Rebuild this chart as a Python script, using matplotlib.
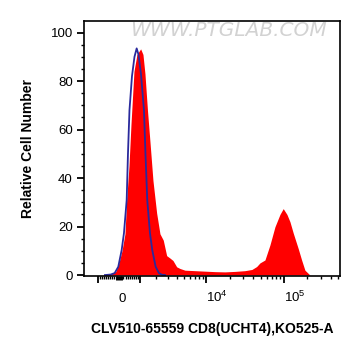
import matplotlib
matplotlib.use("Agg")
import matplotlib.pyplot as plt

plt.rcParams['font.family'] = ['Liberation Sans', 'DejaVu Sans']
plt.rcParams['mathtext.fontset'] = 'custom'
plt.rcParams['mathtext.rm'] = 'Liberation Sans'
plt.rcParams['mathtext.it'] = 'Liberation Sans:italic'
plt.rcParams['mathtext.bf'] = 'Liberation Sans:bold'

# CD8 stained sample (red, filled)
sample_x = [-689, -405, -223, -134, 0, 134, 268, 346, 452, 545, 689, 839, 1033,
            1160, 1275, 1424, 1582, 1782, 2049, 2308, 2589, 2904, 3238, 3569,
            4016, 4456, 5205, 7064, 9551, 12884, 17360, 23370, 31455, 38700,
            44505, 49095, 56940, 66045, 76605, 88845, 97980, 109350, 119550,
            131850, 152850, 169050, 186450, 216300, 250800]
sample_y = [0, 0.3, 1, 1.5, 5, 10, 17, 31, 45, 62, 84, 91, 93.3,
            91, 83, 68, 55, 39, 25.5, 17, 14.4, 8, 7, 6,
            3.4, 2.7, 2.0, 1.8, 1.6, 1.4, 1.3, 1.5, 1.8, 2.3,
            3.5, 5, 6.2, 12.4, 19.9, 25, 27.4, 25, 22,
            17.3, 10.9, 6.2, 2, 0, 0]

# unstained control (blue line)
control_x = [-641, -373, -192, -31, 120, 223, 346, 405, 475, 593, 714, 824,
             916, 1049, 1217, 1304, 1412, 1582, 1734, 1975, 2227, 2475, 2743]
control_y = [0, 0.2, 0.8, 3.4, 10.3, 17.3, 30.9, 50, 68, 82, 90, 93.5,
             91, 83, 68, 50, 30.9, 17.3, 10.3, 3.4, 0.8, 0.1, 0]

x_major = [-1000, 0, 1000, 10000, 100000]
x_labels = ['', '0', '', '$10^4$', '$10^5$']
x_minor = ([-100 * i for i in range(1, 10)] + [100 * i for i in range(1, 10)]
           + [1000 * i for i in range(2, 10)] + [10000 * i for i in range(2, 10)]
           + [100000 * i for i in range(2, 6)])

fig = plt.figure(figsize=(3.61, 3.56), dpi=100)
ax = fig.add_axes([0.2327, 0.2247, 0.709, 0.717])

ax.fill_between(sample_x, sample_y, 0, color='#ff0000', linewidth=0)
ax.plot(control_x, control_y, color='#2a2a9c', linewidth=1.3)

ax.set_xscale('asinh', linear_width=1500)
ax.set_xlim(-1850, 527000)
ax.set_ylim(-0.4, 104.9)

ax.set_xticks(x_major)
ax.set_xticklabels(x_labels)
ax.set_xticks(x_minor, minor=True)
ax.set_yticks([0, 20, 40, 60, 80, 100])
ax.set_yticks(range(0, 105, 5), minor=True)

ax.tick_params(axis='both', which='major', length=5, width=1.3, labelsize=9.5)
ax.tick_params(axis='both', which='minor', length=2.5, width=1)
ax.tick_params(axis='x', which='major', pad=14)
ax.tick_params(axis='y', which='major', pad=3)
for lbl in ax.get_xticklabels():
    lbl.set_va('baseline')
    lbl.set_ha('left')
# the zero tick shows as a thick block
ax.xaxis.get_major_ticks()[1].tick1line.set_markeredgewidth(5)
ax.xaxis.get_major_ticks()[1].tick1line.set_markersize(3)

for s in ax.spines.values():
    s.set_linewidth(1.2)

ax.set_ylabel('Relative Cell Number', fontsize=10, fontweight='bold', labelpad=11)
ax.set_xlabel('CLV510-65559 CD8(UCHT4),KO525-A', fontsize=10, fontweight='bold', labelpad=12)

ax.text(0.564, 0.963, 'WWW.PTGLAB.COM', transform=ax.transAxes, ha='center', va='center',
        fontsize=14.5, color='#d2d2d2', family='DejaVu Sans', style='italic')

fig.savefig('out.png', dpi=100)
